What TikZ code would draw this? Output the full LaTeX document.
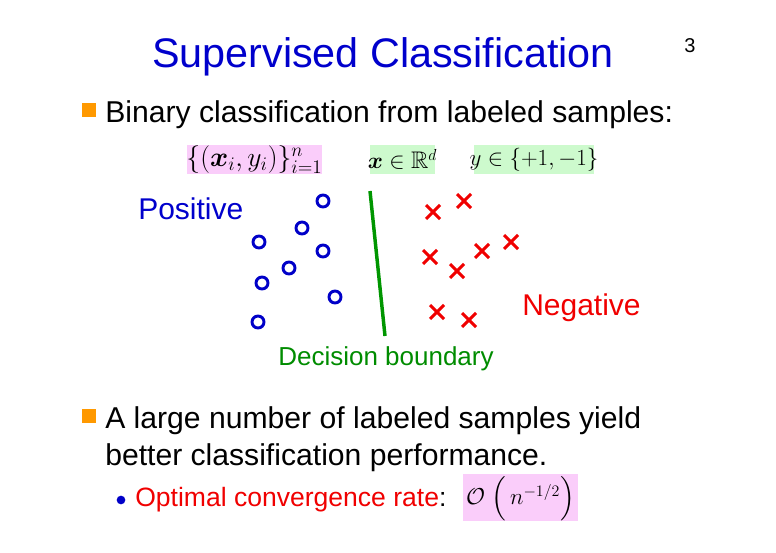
\documentclass[tikz,border=0pt]{standalone}
\usepackage{amsmath,amssymb,bm}
\usepackage{fontspec}
\setmainfont{Liberation Sans}
\definecolor{tblue}{RGB}{0,0,204}
\definecolor{cblue}{RGB}{0,0,200}
\definecolor{xred}{RGB}{240,0,0}
\definecolor{lgreen}{RGB}{0,150,0}
\definecolor{tgreen}{RGB}{0,140,0}
\definecolor{pinkbg}{RGB}{250,205,250}
\definecolor{greenbg}{RGB}{205,250,205}
\definecolor{orangeb}{RGB}{255,153,0}
\tikzset{
  posdot/.style={circle,draw=cblue,line width=2.2pt,minimum size=9pt,inner sep=0pt},
  xline/.style={xred,line width=2.2pt},
  sq/.style={fill=orangeb,minimum size=11pt,inner sep=0pt},
  body/.style={anchor=base west,inner sep=0pt,font=\fontsize{22.6}{27}\selectfont},
  mathbox/.style={inner sep=0pt,anchor=center}
}
\begin{document}
\begin{tikzpicture}[x=0.75pt,y=-0.75pt]
\useasboundingbox (0,0) rectangle (776,553);
% title
\node[anchor=base,inner sep=0pt,text=tblue,font=\fontsize{31}{37}\selectfont] (title) at (383,67) {Supervised Classification};
\node[anchor=base,inner sep=0pt,font=\fontsize{15}{18}\selectfont] (num) at (690,52) {3};
% bullet 1
\node[sq] (b1) at (89,110) {};
\node[body] (t1) at (105,122) {Binary classification from labeled samples:};
% math boxes
\fill[pinkbg] (187,145) rectangle (322,174);
\node[mathbox] (m1) at (254.5,159.5) {\fontsize{20}{23}\selectfont$\{(\bm{x}_i,y_i)\}_{i=1}^{n}$};
\fill[greenbg] (370,145) rectangle (435,174);
\node[mathbox] (m2) at (402.5,159.5) {\fontsize{18}{21}\selectfont$\bm{x}\in\mathbb{R}^{d}$};
\fill[greenbg] (474,145) rectangle (594,174);
\node[mathbox] (m3) at (534,159.5) {\fontsize{18.5}{21}\selectfont$y\in\{+1,-1\}$};
% labels
\node[anchor=base west,inner sep=0pt,text=tblue,font=\fontsize{22.5}{27}\selectfont] (posl) at (138,219) {Positive};
\node[anchor=base west,inner sep=0pt,text=xred,font=\fontsize{22.5}{27}\selectfont] (negl) at (522,315) {Negative};
\node[anchor=base,inner sep=0pt,text=tgreen,font=\fontsize{19.5}{24}\selectfont] (dbl) at (386,365) {Decision boundary};
% positive points
\foreach \nm/\xx/\yy in {p1/323/201,p2/302/228,p3/259/242,p4/323/251,p5/289/268,p6/262/283,p7/335/297,p8/258/322}
  \node[posdot] (\nm) at (\xx,\yy) {};
% negative points
\foreach \nm/\xx/\yy in {n1/433/212,n2/464/201,n3/430/257,n4/457/271,n5/482/251,n6/511/242,n7/437/312,n8/469/320}{
  \coordinate (\nm) at (\xx,\yy);
  \draw[xline] ([shift={(-7,-7)}]\nm) -- ([shift={(7,7)}]\nm);
  \draw[xline] ([shift={(-7,7)}]\nm) -- ([shift={(7,-7)}]\nm);
}
% boundary
\coordinate (da) at (370,191);
\coordinate (db) at (385,336);
\draw[lgreen,line width=2.6pt] (da) -- (db);
% bullet 2
\node[sq] (b2) at (89,416) {};
\node[body] (t2) at (105,428) {A large number of labeled samples yield};
\node[body] (t3) at (105,465) {better classification performance.};
% sub bullet
\node[circle,fill=cblue,minimum size=6.5pt,inner sep=0pt] (b3) at (121,500) {};
\node[anchor=base west,inner sep=0pt,font=\fontsize{19.9}{24}\selectfont] (t4) at (135,506) {\textcolor{xred}{Optimal convergence rate}:};
\fill[pinkbg] (463,474) rectangle (578,521);
\node[mathbox] (m4) at (520.5,499) {\fontsize{18.5}{22}\selectfont$\mathcal{O}\;\Bigl(\,n^{-1/2}\Bigr)$};
\end{tikzpicture}
\end{document}
